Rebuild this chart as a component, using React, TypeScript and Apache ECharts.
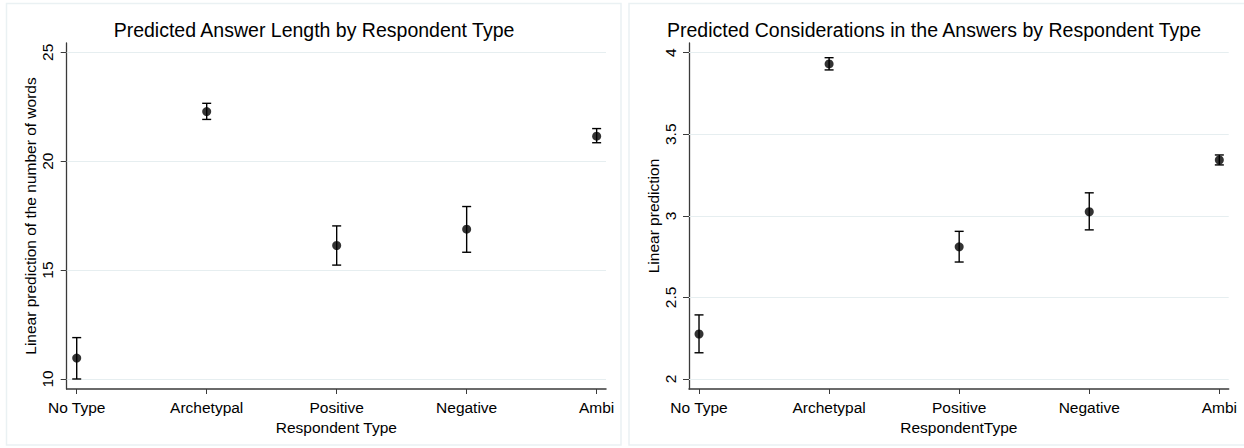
import React, { useEffect, useRef } from "react";
import * as echarts from "echarts";

const categories = ["No Type", "Archetypal", "Positive", "Negative", "Ambi"];
const categoryPositions = [0, 1, 2, 3, 4];

const lengthMean = [10.96, 22.28, 16.13, 16.88, 21.15];
const lengthLow = [10.0, 21.92, 15.23, 15.82, 20.85];
const lengthHigh = [11.9, 22.66, 17.03, 17.92, 21.5];
const lengthTicks = [10, 15, 20, 25];

const consMean = [2.276, 3.931, 2.81, 3.025, 3.342];
const consLow = [2.161, 3.894, 2.717, 2.914, 3.312];
const consHigh = [2.393, 3.969, 2.905, 3.141, 3.373];
const consTicks = [2, 2.5, 3, 3.5, 4];

const FONT = "Liberation Sans";
const GRID_COLOR = "#E6EEF0";
const AXIS_COLOR = "#3a3a3a";

function errorBarRender(params: any, api: any) {
  const x = api.value(0);
  const top = api.coord([x, api.value(2)]);
  const bot = api.coord([x, api.value(1)]);
  const hw = 4.5;
  const style = { stroke: "#000", lineWidth: 1.4 };
  return {
    type: "group",
    children: [
      { type: "line", shape: { x1: top[0], y1: top[1], x2: bot[0], y2: bot[1] }, style },
      { type: "line", shape: { x1: top[0] - hw, y1: top[1], x2: top[0] + hw, y2: top[1] }, style },
      { type: "line", shape: { x1: bot[0] - hw, y1: bot[1], x2: bot[0] + hw, y2: bot[1] }, style },
    ],
  };
}

function makeXAxis(gridIndex: number, name: string) {
  return {
    type: "value",
    gridIndex,
    min: -0.077,
    max: 4.072,
    name,
    nameLocation: "middle",
    nameGap: 25,
    nameTextStyle: { fontFamily: FONT, fontSize: 15.5, color: "#000" },
    axisLine: { show: true, onZero: false, lineStyle: { color: AXIS_COLOR, width: 1.5 } },
    axisTick: { show: true, length: 5, customValues: categoryPositions, lineStyle: { color: AXIS_COLOR, width: 1 } },
    axisLabel: {
      customValues: categoryPositions,
      formatter: (v: number) => categories[Math.round(v)] ?? "",
      fontFamily: FONT,
      fontSize: 15.5,
      color: "#000",
      margin: 10,
    },
    splitLine: { show: false },
  };
}

function makeYAxis(gridIndex: number, name: string, min: number, max: number, ticks: number[]) {
  return {
    type: "value",
    gridIndex,
    min,
    max,
    name,
    nameLocation: "middle",
    nameGap: 27,
    nameRotate: 90,
    nameTextStyle: { fontFamily: FONT, fontSize: 15.5, color: "#000" },
    axisLine: { show: true, onZero: false, lineStyle: { color: AXIS_COLOR, width: 1.3 } },
    axisTick: { show: true, length: 6, customValues: ticks, lineStyle: { color: AXIS_COLOR, width: 1 } },
    axisLabel: {
      customValues: ticks,
      rotate: 90,
      fontFamily: FONT,
      fontSize: 15.5,
      color: "#000",
      margin: 11,
    },
    splitLine: { show: false },
  };
}

export default function App() {
  const ref = useRef<HTMLDivElement>(null);
  useEffect(() => {
    if (!ref.current) return;
    const chart = echarts.init(ref.current, null, { renderer: "svg" });
    const panels = [
      { mean: lengthMean, low: lengthLow, high: lengthHigh, ticks: lengthTicks },
      { mean: consMean, low: consLow, high: consHigh, ticks: consTicks },
    ];
    const series: any[] = [];
    panels.forEach((p, gi) => {
      series.push({
        type: "custom",
        xAxisIndex: gi,
        yAxisIndex: gi,
        z: 2,
        renderItem: errorBarRender,
        encode: { x: 0, y: [1, 2] },
        data: categoryPositions.map((x, i) => [x, p.low[i], p.high[i]]),
        markLine: {
          silent: true,
          symbol: "none",
          label: { show: false },
          lineStyle: { color: GRID_COLOR, type: "solid", width: 1.2 },
          data: p.ticks.map((v) => ({ yAxis: v })),
          z: 1,
        },
      });
      series.push({
        type: "scatter",
        xAxisIndex: gi,
        yAxisIndex: gi,
        z: 3,
        symbol: "circle",
        symbolSize: 9,
        itemStyle: { color: "#000" },
        data: categoryPositions.map((x, i) => [x, p.mean[i]]),
      });
    });

    chart.setOption({
      animation: false,
      backgroundColor: "#fff",
      textStyle: { fontFamily: FONT },
      title: [
        {
          text: "Predicted Answer Length by Respondent Type",
          left: 314,
          top: 20,
          textAlign: "center",
          padding: 0,
          textStyle: { fontFamily: FONT, fontSize: 19.5, fontWeight: "normal", color: "#000" },
        },
        {
          text: "Predicted Considerations in the Answers by Respondent Type",
          left: 934,
          top: 20,
          textAlign: "center",
          padding: 0,
          textStyle: { fontFamily: FONT, fontSize: 19.5, fontWeight: "normal", color: "#000" },
        },
      ],
      graphic: [
        {
          type: "rect",
          shape: { x: 6.5, y: 3.5, width: 614.5, height: 441.5 },
          style: { fill: "none", stroke: "#EAF1F3", lineWidth: 1.5 },
          silent: true,
        },
        {
          type: "rect",
          shape: { x: 629, y: 3.5, width: 620, height: 441.5 },
          style: { fill: "none", stroke: "#EAF1F3", lineWidth: 1.5 },
          silent: true,
        },
      ],
      grid: [
        { left: 66.7, top: 43, width: 539.3, height: 346 },
        { left: 689, top: 43, width: 539.7, height: 346 },
      ],
      xAxis: [makeXAxis(0, "Respondent Type"), makeXAxis(1, "RespondentType")],
      yAxis: [
        makeYAxis(0, "Linear prediction of the number of words", 9.54, 25.43, lengthTicks),
        makeYAxis(1, "Linear prediction", 1.939, 4.059, consTicks),
      ],
      series,
    });
    return () => chart.dispose();
  }, []);
  return (
    <div
      ref={ref}
      style={{ position: "fixed", left: 0, top: 0, width: 1244, height: 448, background: "#fff" }}
    />
  );
}
